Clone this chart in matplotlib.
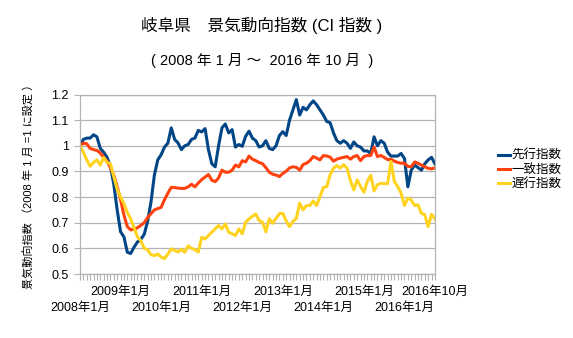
import matplotlib
matplotlib.use("Agg")
import matplotlib.pyplot as plt

plt.rcParams['font.family'] = ['Liberation Sans', 'Noto Sans CJK JP', 'DejaVu Sans']

# 先行・一致・遅行指数 (2008年1月 ～ 2016年10月, 月次)
senko = [1.0, 1.025, 1.03, 1.03, 1.043, 1.035, 0.99, 0.975, 0.955, 0.92,
         0.85, 0.75, 0.665, 0.645, 0.585, 0.58, 0.605, 0.625, 0.635, 0.655,
         0.705, 0.78, 0.885, 0.945, 0.965, 0.995, 1.01, 1.07, 1.025, 1.011,
         0.985, 1.0, 1.005, 1.025, 1.03, 1.06, 1.054, 1.067, 0.985, 0.93,
         0.918, 1.0, 1.07, 1.085, 1.05, 1.063, 0.995, 1.005, 0.998, 1.037,
         1.057, 1.03, 1.02, 0.995, 1.0, 1.02, 0.99, 0.985, 1.0, 1.04,
         1.055, 1.04, 1.1, 1.14, 1.18, 1.12, 1.15, 1.14, 1.16, 1.175,
         1.16, 1.14, 1.12, 1.095, 1.09, 1.05, 1.02, 1.01, 1.02, 1.01,
         0.99, 1.015, 1.0, 0.995, 0.98, 0.98, 0.97, 1.035, 1.0, 1.02,
         1.01, 0.975, 0.96, 0.96, 0.96, 0.97, 0.95, 0.84, 0.905, 0.925,
         0.915, 0.905, 0.93, 0.945, 0.955, 0.93]

icchi = [1.0, 1.01, 1.008, 0.99, 0.985, 0.982, 0.972, 0.955, 0.94, 0.915,
         0.885, 0.84, 0.79, 0.73, 0.685, 0.672, 0.675, 0.68, 0.69, 0.70,
         0.72, 0.735, 0.75, 0.755, 0.76, 0.79, 0.815, 0.838, 0.837, 0.835,
         0.834, 0.834, 0.84, 0.85, 0.84, 0.855, 0.868, 0.878, 0.888, 0.866,
         0.86, 0.875, 0.905, 0.897, 0.897, 0.905, 0.925, 0.918, 0.942, 0.937,
         0.96, 0.948, 0.942, 0.935, 0.93, 0.915, 0.897, 0.889, 0.886, 0.88,
         0.892, 0.901, 0.914, 0.918, 0.916, 0.905, 0.927, 0.932, 0.942, 0.958,
         0.952, 0.945, 0.962, 0.96, 0.956, 0.94, 0.948, 0.952, 0.955, 0.958,
         0.948, 0.958, 0.962, 0.942, 0.958, 0.962, 0.962, 0.995, 0.958, 0.962,
         0.955, 0.946, 0.948, 0.94, 0.935, 0.932, 0.932, 0.92, 0.918, 0.937,
         0.932, 0.925, 0.918, 0.912, 0.91, 0.914]

chiko = [1.0, 0.975, 0.945, 0.92, 0.935, 0.945, 0.925, 0.955, 0.935, 0.93,
         0.88, 0.83, 0.8, 0.775, 0.74, 0.715, 0.68, 0.645, 0.63, 0.6,
         0.595, 0.575, 0.572, 0.578, 0.566, 0.56, 0.578, 0.598, 0.592, 0.586,
         0.596, 0.585, 0.61, 0.6, 0.595, 0.586, 0.643, 0.637, 0.65, 0.663,
         0.676, 0.689, 0.676, 0.695, 0.663, 0.657, 0.65, 0.676, 0.657, 0.702,
         0.715, 0.725, 0.734, 0.708, 0.702, 0.665, 0.715, 0.698, 0.717, 0.735,
         0.737, 0.707, 0.685, 0.705, 0.717, 0.776, 0.75, 0.767, 0.767, 0.785,
         0.767, 0.802, 0.837, 0.841, 0.887, 0.913, 0.923, 0.913, 0.926, 0.913,
         0.865, 0.828, 0.867, 0.841, 0.819, 0.861, 0.885, 0.824, 0.848, 0.854,
         0.852, 0.852, 0.939, 0.861, 0.841, 0.815, 0.767, 0.796, 0.789, 0.767,
         0.77, 0.737, 0.731, 0.685, 0.733, 0.715]

# 月ラベル
tsuki = [f"{2008 + m // 12}年{m % 12 + 1}月" for m in range(len(senko))]
label_pos = list(range(0, len(senko), 12)) + [len(senko) - 1]

fig = plt.figure(figsize=(5.73, 3.38), dpi=100)
ax = fig.add_axes([0.1396, 0.1893, 0.6194, 0.5311])

x = list(range(len(senko)))
ax.plot(x, senko, color='#004586', lw=2.2, label='先行指数')
ax.plot(x, icchi, color='#ff420e', lw=2.2, label='一致指数')
ax.plot(x, chiko, color='#ffd320', lw=2.2, label='遅行指数')

ax.set_xlim(0, len(senko) - 1)
ax.set_ylim(0.5, 1.2)
ax.set_yticks([0.5, 0.6, 0.7, 0.8, 0.9, 1.0, 1.1, 1.2])
ax.set_yticklabels(['0.5', '0.6', '0.7', '0.8', '0.9', '1', '1.1', '1.2'], fontsize=9)
ax.yaxis.grid(True, color='#b3b3b3', lw=0.9)
ax.set_axisbelow(True)

# 下の目盛り (毎月)
ax.set_xticks(x, minor=True)
ax.set_xticks(label_pos)
ax.set_xticklabels([])
ax.tick_params(axis='x', which='both', length=4, color='#b3b3b3', width=0.8)
ax.tick_params(axis='y', length=4, color='#b3b3b3', width=0.8, pad=4)

# 2段のラベル (交互に上下)
for n, p in enumerate(label_pos):
    yoff = -0.10 if n % 2 == 1 else -0.19
    ax.text(p, yoff, tsuki[p], ha='center', va='center', fontsize=9,
            transform=ax.get_xaxis_transform(), clip_on=False)

for s in ax.spines.values():
    s.set_color('#b3b3b3')
    s.set_linewidth(0.9)

ax.set_ylabel('景気動向指数 （2008 年 1 月 =1 に設定 ）', fontsize=8, labelpad=13)

fig.text(0.457, 0.925, '岐阜県　景気動向指数 (CI 指数 )', ha='center', va='center', fontsize=12)
fig.text(0.457, 0.82, '( 2008 年 1 月 ～  2016 年 10 月  )', ha='center', va='center', fontsize=10.5)

fig.legend(loc='center left', bbox_to_anchor=(0.86, 0.497), frameon=False,
           fontsize=9, handlelength=1.0, handletextpad=0.1, labelspacing=0.15,
           borderaxespad=0)

fig.savefig('out.png', dpi=100)
